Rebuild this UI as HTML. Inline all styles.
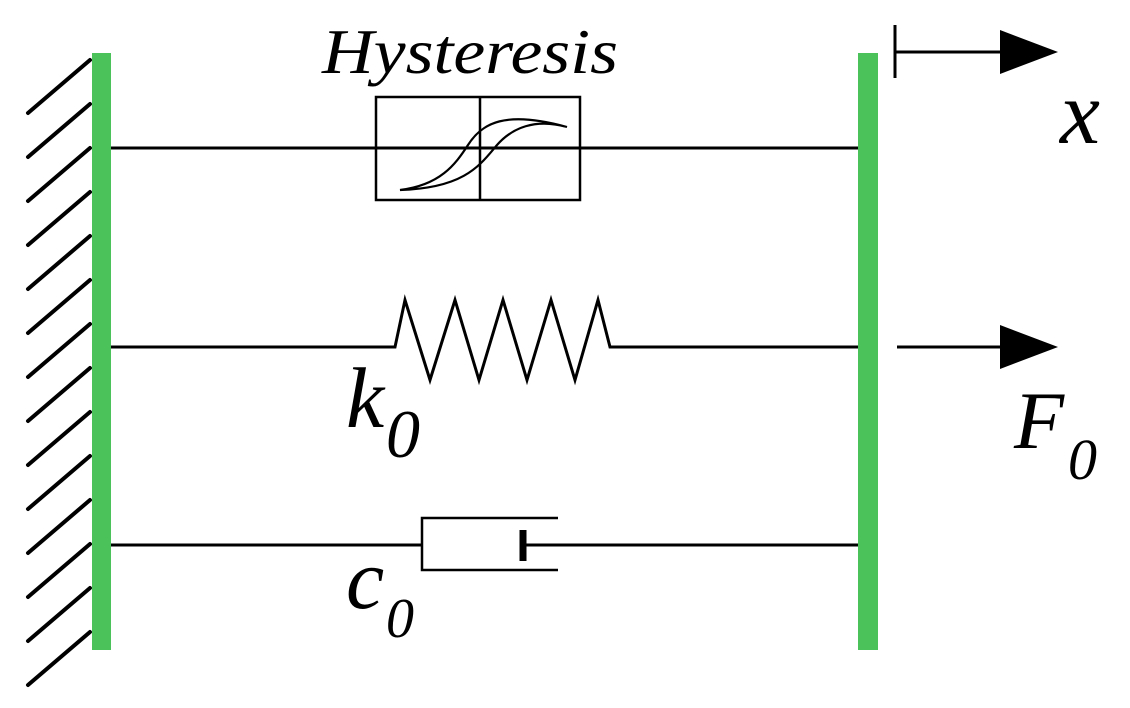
<!DOCTYPE html>
<html><head><style>html,body{margin:0;padding:0;background:#fff;}svg{display:block}</style></head>
<body>
<svg width="1130" height="708" viewBox="0 0 1130 708" xmlns="http://www.w3.org/2000/svg">
<g stroke="#000" stroke-width="4" stroke-linecap="round">
<line x1="90" y1="60" x2="28" y2="113"/>
<line x1="90" y1="104" x2="28" y2="157"/>
<line x1="90" y1="148" x2="28" y2="201"/>
<line x1="90" y1="192" x2="28" y2="245"/>
<line x1="90" y1="236" x2="28" y2="289"/>
<line x1="90" y1="280" x2="28" y2="333"/>
<line x1="90" y1="324" x2="28" y2="377"/>
<line x1="90" y1="368" x2="28" y2="421"/>
<line x1="90" y1="412" x2="28" y2="465"/>
<line x1="90" y1="456" x2="28" y2="509"/>
<line x1="90" y1="500" x2="28" y2="553"/>
<line x1="90" y1="544" x2="28" y2="597"/>
<line x1="90" y1="588" x2="28" y2="641"/>
<line x1="90" y1="632" x2="28" y2="685"/>
</g>
<rect x="92" y="53" width="19" height="597" fill="#4cc25a"/>
<rect x="858" y="53" width="20" height="597" fill="#4cc25a"/>
<g stroke="#000" stroke-width="3" fill="none">
<line x1="111" y1="148" x2="858" y2="148"/>
<rect x="376" y="97" width="204" height="103" stroke-width="2.5"/>
<line x1="480" y1="97" x2="480" y2="200" stroke-width="2.5"/>
<path d="M400,190 C440,185 455,165 468,145 C482,123 505,110 567,127 C535,118 512,128 497,145 C480,165 465,188 400,190 Z" stroke-width="2.2"/>
<polyline points="111,347 395,347 405,300 430,380 455,300 479,380 503,300 527,380 551,300 575,380 598,300 610,347 858,347" stroke-linejoin="miter"/>
<line x1="111" y1="545" x2="422" y2="545"/>
<polyline points="558,518 422,518 422,570 558,570" stroke-width="2.5"/>
<line x1="523" y1="545" x2="858" y2="545"/>
<line x1="523" y1="530" x2="523" y2="561" stroke-width="7"/>
<line x1="895" y1="25" x2="895" y2="78"/>
<line x1="895" y1="52" x2="1005" y2="52"/>
<line x1="897" y1="347" x2="1005" y2="347"/>
</g>
<polygon points="1000,30 1058,52 1000,74" fill="#000"/>
<polygon points="1000,325 1058,347 1000,369" fill="#000"/>
<g font-family="Liberation Serif, serif" font-style="italic" fill="#000">
<text x="322" y="73" font-size="64" textLength="296" lengthAdjust="spacingAndGlyphs">Hysteresis</text>
<text x="1060" y="143" font-size="90">x</text>
<text x="1014" y="448" font-size="82">F</text>
<text x="1068" y="479" font-size="58">0</text>
<text x="346" y="427" font-size="86">k</text>
<text x="386" y="457" font-size="68">0</text>
<text x="346" y="608" font-size="86">c</text>
<text x="386" y="637" font-size="56">0</text>
</g>
</svg>
</body></html>
